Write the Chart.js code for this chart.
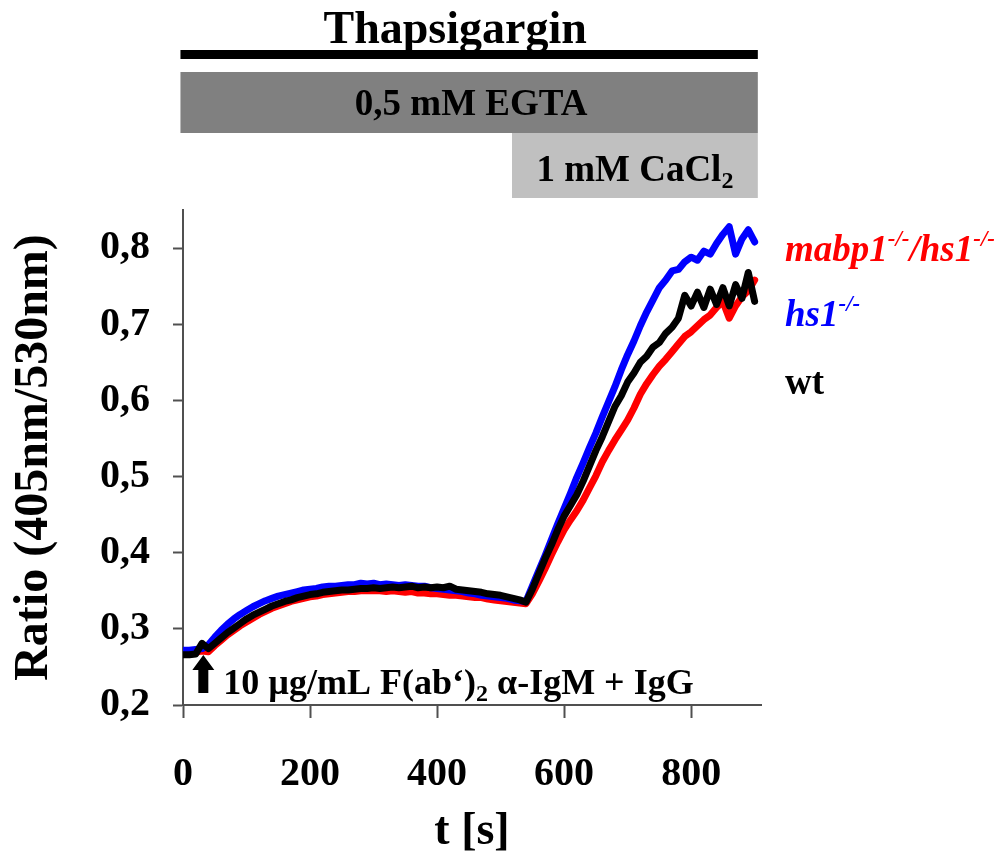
<!DOCTYPE html>
<html>
<head>
<meta charset="utf-8">
<script src="https://cdn.jsdelivr.net/npm/chart.js@4/dist/chart.umd.min.js"></script>
<style>
  html, body { margin: 0; padding: 0; background: #fff; }
  #wrap { width: 1003px; height: 861px; }
</style>
</head>
<body>
<div id="wrap"><canvas id="ratioChart" width="1003" height="861"></canvas></div>
<script>
// time points [s]
var times = [0,10,20,30,40,50,60,70,80,90,100,110,120,130,140,150,160,170,180,190,200,
  210,220,230,240,250,260,270,280,290,300,310,320,330,340,350,360,370,380,390,400,
  410,420,430,440,450,460,470,480,490,500,510,520,530,540,550,560,570,580,590,600,
  610,620,630,640,650,660,670,680,690,700,710,720,730,740,750,760,770,780,790,800,
  810,820,830,840,850,860,870,880,890,900];

// wt
var wtValues = [.266,.266,.267,.281,.274,.281,.288,.295,.301,.307,.313,.318,.322,.326,.330,.333,.336,.338,.341,.343,.345,
  .346,.348,.349,.350,.351,.351,.352,.353,.353,.354,.353,.354,.355,.354,.355,.356,.354,.355,.354,.355,
  .354,.356,.352,.351,.350,.349,.348,.346,.345,.344,.342,.340,.338,.335,.352,.372,.392,.410,.430,.448,
  .462,.476,.494,.514,.534,.552,.572,.592,.606,.624,.636,.650,.658,.670,.676,.688,.696,.708,.738,.724,
  .742,.722,.746,.726,.748,.724,.752,.734,.768,.730];

// hs1-/-
var hs1Values = [.272,.272,.273,.274,.279,.289,.298,.306,.313,.319,.324,.329,.333,.337,.340,.343,.345,.347,.349,.351,.352,
  .353,.355,.356,.356,.357,.358,.358,.360,.359,.360,.358,.359,.358,.357,.358,.357,.356,.356,.354,.353,
  .352,.351,.350,.349,.347,.346,.344,.343,.342,.341,.340,.338,.337,.336,.356,.376,.396,.417,.438,.458,
  .478,.499,.518,.538,.557,.578,.598,.618,.640,.660,.678,.698,.716,.732,.748,.758,.770,.772,.782,.788,
  .784,.796,.792,.806,.818,.828,.792,.812,.824,.808];

// mabp1-/-/hs1-/-
var dkoValues = [.268,.268,.269,.271,.270,.278,.285,.292,.298,.304,.309,.314,.319,.323,.327,.330,.333,.336,.338,.340,.342,
  .343,.345,.346,.347,.348,.349,.349,.350,.350,.350,.350,.349,.350,.349,.348,.349,.347,.347,.346,.346,
  .345,.344,.344,.343,.342,.341,.341,.339,.338,.337,.336,.335,.334,.333,.346,.362,.379,.397,.414,.430,
  .443,.455,.469,.485,.501,.519,.534,.548,.561,.574,.590,.608,.622,.634,.645,.654,.664,.674,.684,.690,
  .698,.706,.712,.722,.730,.708,.724,.736,.744,.758];

var xTicks = [0, 200, 400, 600, 800];

// treatment periods [s]
var thapsiRange = [-4, 905];
var egtaRange = [-4, 905];
var cacl2Range = [518, 905];
var stimTime = 32;

var SERIF = '"Liberation Serif", "Times New Roman", serif';

function toPoints(vals){
	var pts = [];
	for(var i in vals){ pts.push({x: times[i], y: vals[i]}); }
	return pts;
}

// draws a row of text pieces (for sub/superscripts)
function drawRuns(ctx, x, y, runs, align){
	var total = 0;
	for(var i in runs){ ctx.font = runs[i].font; total += ctx.measureText(runs[i].t).width; }
	var cx = x;
	if(align === 'center'){ cx = x - total/2; }
	ctx.textAlign = 'left';
	ctx.textBaseline = 'alphabetic';
	for(var i in runs){
		ctx.font = runs[i].font;
		ctx.fillStyle = runs[i].color || '#000';
		ctx.fillText(runs[i].t, cx, y + (runs[i].dy || 0));
		cx += ctx.measureText(runs[i].t).width;
	}
}

var extrasPlugin = {
	id: 'extras',
	afterDraw: function(chart){
		var ctx = chart.ctx;
		var xs = chart.scales.x;
		ctx.save();

		// Thapsigargin bar
		var x0 = xs.getPixelForValue(thapsiRange[0]), x1 = xs.getPixelForValue(thapsiRange[1]);
		ctx.fillStyle = '#000';
		ctx.fillRect(x0, 50, x1 - x0, 9);
		drawRuns(ctx, (x0 + x1)/2 - 14, 43, [{t: 'Thapsigargin', font: 'bold 46px ' + SERIF}], 'center');

		// EGTA box
		x0 = xs.getPixelForValue(egtaRange[0]); x1 = xs.getPixelForValue(egtaRange[1]);
		ctx.fillStyle = '#808080';
		ctx.fillRect(x0, 72, x1 - x0, 61);
		drawRuns(ctx, (x0 + x1)/2 + 2, 115, [{t: '0,5 mM EGTA', font: 'bold 37px ' + SERIF}], 'center');

		// CaCl2 box
		x0 = xs.getPixelForValue(cacl2Range[0]); x1 = xs.getPixelForValue(cacl2Range[1]);
		ctx.fillStyle = '#c0c0c0';
		ctx.fillRect(x0, 133, x1 - x0, 65);
		drawRuns(ctx, (x0 + x1)/2, 181, [
			{t: '1 mM CaCl', font: 'bold 37px ' + SERIF},
			{t: '2', font: 'bold 24px ' + SERIF, dy: 7}
		], 'center');

		// stimulus arrow
		var ax = xs.getPixelForValue(stimTime);
		ctx.fillStyle = '#000';
		ctx.beginPath();
		ctx.moveTo(ax, 655);
		ctx.lineTo(ax + 11, 670);
		ctx.lineTo(ax + 5, 670);
		ctx.lineTo(ax + 5, 693);
		ctx.lineTo(ax - 5, 693);
		ctx.lineTo(ax - 5, 670);
		ctx.lineTo(ax - 11, 670);
		ctx.closePath();
		ctx.fill();
		drawRuns(ctx, ax + 20, 694, [
			{t: '10 \u00b5g/mL F(ab\u2018)', font: 'bold 36px ' + SERIF},
			{t: '2', font: 'bold 24px ' + SERIF, dy: 7},
			{t: ' \u03b1-IgM + IgG', font: 'bold 36px ' + SERIF}
		], 'left');

		// series labels
		var big = 'bold italic 37px ' + SERIF;
		var sup = 'bold italic 23px ' + SERIF;
		drawRuns(ctx, 785, 261, [
			{t: 'mabp1', font: big, color: '#ff0000'},
			{t: '-/-', font: sup, dy: -15, color: '#ff0000'},
			{t: '/hs1', font: big, color: '#ff0000'},
			{t: '-/-', font: sup, dy: -15, color: '#ff0000'}
		], 'left');
		drawRuns(ctx, 785, 326, [
			{t: 'hs1', font: big, color: '#0000ff'},
			{t: '-/-', font: sup, dy: -15, color: '#0000ff'}
		], 'left');
		drawRuns(ctx, 785, 394, [{t: 'wt', font: 'bold 37px ' + SERIF, color: '#000'}], 'left');

		ctx.restore();
	}
};

(function () {
  'use strict'

	var ctx = document.getElementById('ratioChart');
	var myChart = new Chart(ctx, {
	    type: 'line',
	    data: {
	        datasets: [
	        	{ label: 'wt', data: toPoints(wtValues), borderColor: '#000000', borderWidth: 7 },
	        	{ label: 'hs1-/-', data: toPoints(hs1Values), borderColor: '#0000ff', borderWidth: 7 },
	        	{ label: 'mabp1-/-/hs1-/-', data: toPoints(dkoValues), borderColor: '#ff0000', borderWidth: 7 }
	        ]
	    },
	    options: {
	    	responsive: false,
	    	animation: false,
	    	layout: { padding: { left: 0, top: 210, right: 242, bottom: 0 } },
	    	scales: {
	    		x: {
	    			type: 'linear', min: 0, max: 910,
	    			afterFit: function(s){ s.height = 156; },
	    			afterBuildTicks: function(s){ s.ticks = xTicks.map(function(v){ return {value: v}; }); },
	    			ticks: { color: '#000', padding: 33, maxRotation: 0, font: { family: SERIF, size: 40, weight: 'bold' } },
	    			grid: { drawOnChartArea: false, tickLength: 13, tickColor: '#505050', tickWidth: 2 },
	    			border: { color: '#505050', width: 2 },
	    			title: { display: true, text: 't [s]', color: '#000', padding: { top: 0, bottom: 6 },
	    				font: { family: SERIF, size: 46, weight: 'bold', lineHeight: 1 } }
	    		},
	    		y: {
	    			type: 'linear', min: 0.2, max: 0.85,
	    			afterFit: function(s){ s.width = 183; },
	    			ticks: {
	    				stepSize: 0.05, color: '#000', padding: 23,
	    				font: { family: SERIF, size: 40, weight: 'bold' },
	    				callback: function(v){
	    					var k = Math.round(v * 100);
	    					if(k % 10 !== 0){ return ''; }
	    					return (k / 100).toFixed(1).replace('.', ',');
	    				}
	    			},
	    			grid: { drawOnChartArea: false, tickLength: 10, tickColor: '#505050', tickWidth: 2 },
	    			border: { color: '#505050', width: 2 },
	    			title: { display: true, text: 'Ratio (405nm/530nm)', color: '#000', padding: { top: 11, bottom: 0 },
	    				font: { family: SERIF, size: 48, weight: 'bold', lineHeight: 1 } }
	    		}
	        },
	        elements: { point: { radius: 0 }, line: { tension: 0, borderJoinStyle: 'round', borderCapStyle: 'round' } },
	        plugins: { legend: { display: false }, tooltip: { enabled: false } }
	    },
	    plugins: [extrasPlugin]
	});
})()
</script>
</body>
</html>
